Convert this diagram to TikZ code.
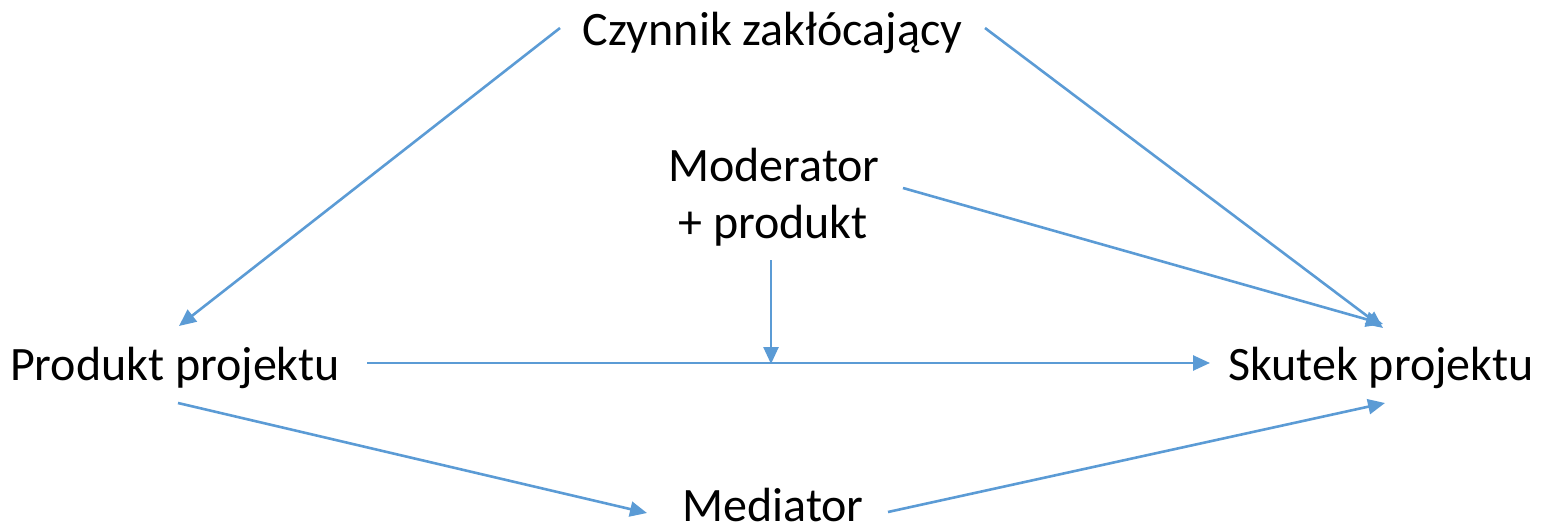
\documentclass[tikz,border=0pt]{standalone}
\usepackage{fontspec}
\setmainfont{Carlito}
\usetikzlibrary{arrows.meta}
\definecolor{lineblue}{HTML}{5B9BD5}
\begin{document}
\begin{tikzpicture}[x=1pt,y=-1pt,
  lbl/.style={anchor=base,inner sep=0pt,font=\fontsize{48}{58}\selectfont},
  conn/.style={draw=lineblue,line width=2.6pt,-{Triangle[length=17pt,width=15pt]}}]
\useasboundingbox (0,0) rectangle (1542,530);
\node[lbl] (conf) at (772.5,45) {Czynnik zakłócający};
\node[lbl] (mod1) at (774,181) {Moderator};
\node[lbl] (mod2) at (773,238) {+ produkt};
\node[lbl] (prod) at (175,380) {Produkt projektu};
\node[lbl] (skut) at (1381,380) {Skutek projektu};
\node[lbl] (med) at (773,521) {Mediator};
% connector endpoints
\coordinate (c1) at (560,28);
\coordinate (p1) at (179,326);
\coordinate (c2) at (985,28);
\coordinate (s1) at (1383,328);
\coordinate (m1) at (903,188);
\coordinate (s2) at (1383,324);
\coordinate (m2) at (771,260);
\coordinate (h) at (771,364);
\coordinate (p2) at (367,363);
\coordinate (s3) at (1210,363);
\coordinate (p3) at (178,403);
\coordinate (d1) at (647,513);
\coordinate (d2) at (888,512);
\coordinate (s4) at (1385,403);
\draw[conn] (c1) -- (p1);
\draw[conn] (c2) -- (s1);
\draw[conn] (m1) -- (s2);
\draw[conn] (m2) -- (h);
\draw[conn] (p2) -- (s3);
\draw[conn] (p3) -- (d1);
\draw[conn] (d2) -- (s4);
\end{tikzpicture}
\end{document}
